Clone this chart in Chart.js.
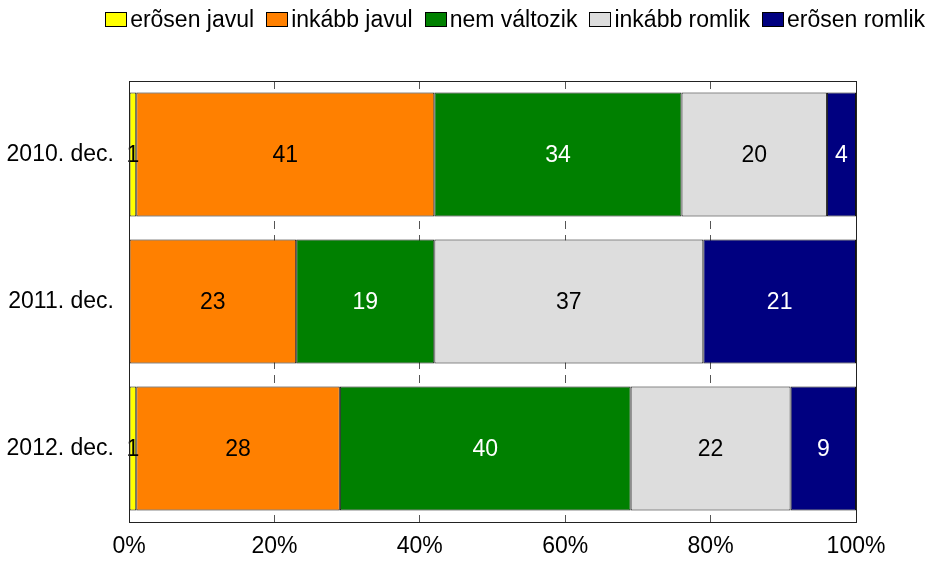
<!DOCTYPE html>
<html>
<head>
<meta charset="utf-8">
<script src="https://cdn.jsdelivr.net/npm/chart.js@4"></script>
<style>
  html, body { margin:0; padding:0; background:#fff; }
  #wrap { position:relative; width:930px; height:562px; }
  #legend { position:absolute; top:6px; right:5px; display:flex; gap:12px;
            font-family:"Liberation Sans", Arial, sans-serif; font-size:23px; color:#000; }
  #legend .item { display:flex; align-items:center; }
  #legend .box { width:20px; height:13px; border:1px solid #000; margin-right:3px; }
</style>
</head>
<body>
<div id="wrap">
  <canvas id="c" width="930" height="562"></canvas>
  <div id="legend"></div>
</div>
<script>
// periods on the y axis
const categories = ['2010. dec.', '2011. dec.', '2012. dec.'];
// answer options (series)
const seriesNames = ['erõsen javul', 'inkább javul', 'nem változik', 'inkább romlik', 'erõsen romlik'];
const seriesColors = ['#ffff00', '#ff8000', '#008000', '#dddddd', '#000080'];
const labelColors = ['#000', '#000', '#fff', '#000', '#fff'];
// values per series, one per period (%)
const strongBetter = [1, 0, 1];
const ratherBetter = [41, 23, 28];
const noChange = [34, 19, 40];
const ratherWorse = [20, 37, 22];
const strongWorse = [4, 21, 9];
const seriesValues = [strongBetter, ratherBetter, noChange, ratherWorse, strongWorse];

const FONT = '"Liberation Sans", Arial, sans-serif';
const FSIZE = 23;

// html legend so the box/text spacing can match
const leg = document.getElementById('legend');
seriesNames.forEach((n, i) => {
  const it = document.createElement('div'); it.className = 'item';
  const b = document.createElement('span'); b.className = 'box'; b.style.background = seriesColors[i];
  const t = document.createElement('span'); t.textContent = n;
  it.appendChild(b); it.appendChild(t); leg.appendChild(it);
});

// value labels in the middle of each segment
const valueLabels = {
  id: 'valueLabels',
  afterDatasetsDraw(chart){
    const ctx = chart.ctx;
    ctx.save();
    ctx.font = FSIZE + 'px ' + FONT;
    ctx.textAlign = 'center';
    ctx.textBaseline = 'middle';
    chart.data.datasets.forEach((ds, di) => {
      chart.getDatasetMeta(di).data.forEach((bar, i) => {
        const v = ds.data[i];
        if(!v) return;
        const p = bar.getProps(['x', 'y', 'base'], true);
        ctx.fillStyle = labelColors[di];
        ctx.fillText(String(v), (p.x + p.base) / 2, p.y + 1);
      });
    });
    ctx.restore();
  }
};

// frame around the plot area
const frame = {
  id: 'frame',
  afterDraw(chart){
    const a = chart.chartArea, ctx = chart.ctx;
    ctx.save();
    ctx.strokeStyle = '#222';
    ctx.lineWidth = 1;
    ctx.strokeRect(Math.round(a.left) + 0.5, Math.round(a.top) + 0.5, Math.round(a.right - a.left), Math.round(a.bottom - a.top));
    ctx.restore();
  }
};

new Chart(document.getElementById('c'), {
  type: 'bar',
  data: {
    labels: categories,
    datasets: seriesNames.map((n, i) => ({
      label: n,
      data: seriesValues[i],
      backgroundColor: seriesColors[i],
      borderColor: '#111',
      borderWidth: 1,
      borderSkipped: false,
      categoryPercentage: 0.844,
      barPercentage: 1
    }))
  },
  options: {
    indexAxis: 'y',
    responsive: false,
    animation: false,
    layout: { padding: { top: 81, right: 74, left: 0, bottom: 0 } },
    plugins: { legend: { display: false }, tooltip: { enabled: false } },
    scales: {
      x: {
        stacked: true, min: 0, max: 100,
        ticks: { stepSize: 20, callback: v => v + '%', color: '#000', font: { family: FONT, size: FSIZE }, padding: 11 },
        grid: { color: '#555', drawTicks: false, tickLength: 0 },
        border: { display: false, dash: [8, 6] },
        afterFit(s){ s.height = 40; }
      },
      y: {
        stacked: true,
        ticks: { color: '#000', font: { family: FONT, size: FSIZE }, padding: 15 },
        grid: { display: false, drawTicks: false },
        border: { display: false },
        afterFit(s){ s.width = 129; }
      }
    }
  },
  plugins: [valueLabels, frame]
});
</script>
</body>
</html>
